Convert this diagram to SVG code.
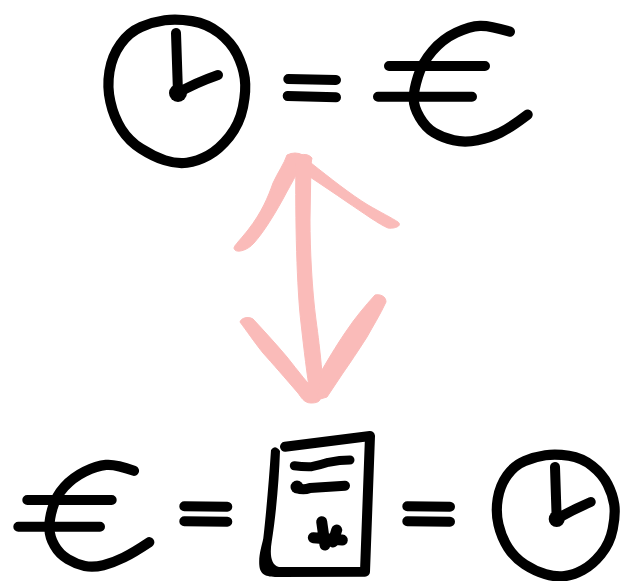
<svg xmlns="http://www.w3.org/2000/svg" width="627" height="581" viewBox="0 0 627 581">
<style>
.ink{fill:none;stroke:#000;stroke-width:10;stroke-linecap:round;stroke-linejoin:round}
.blob{stroke-width:11}
.dot{fill:#000}
.pink{fill:#fabbb9;stroke:#fabbb9;stroke-width:1;stroke-linejoin:round}
</style>
<rect width="627" height="581" fill="#fff"/>
<g id="clock-top">
<path class="ink" transform="translate(176.7 91) scale(1.02) translate(-176.7 -91)" d="M165,21.7 Q176.7,20 191.7,22.5 Q206.7,25 218.4,34.2 Q230,43.3 235.9,55 Q241.7,66.7 243.4,78.4 Q245,90 241.7,106.7 Q238.3,123.3 228.3,135.8 Q218.3,148.3 207.5,154.2 Q196.7,160 186.7,161.4 Q176.7,162.7 165,158.9 Q153.3,155 141.7,147.5 Q130,140 122.5,128.4 Q115,116.7 111.7,101.7 Q108.3,86.7 110.8,71.7 Q113.3,56.7 121.7,45 Q130,33.3 141.7,28.3 Q153.3,23.3 165,21.7Z"/>
<path class="ink" d="M176,33 L178,93 Q195,83 218,75"/>
<circle class="dot" cx="178" cy="93" r="9"/>
</g>
<g id="equals-top">
<path class="ink" d="M288.3,79 L336,80 M287.7,96 L336,97.3"/>
</g>
<g id="euro-top">
<path class="ink" transform="translate(480 85) scale(1.02) translate(-480 -85)" d="M509.3,32.7 Q490,26.7 480,27 Q470,27.3 456.7,33.7 Q443.3,40 433.3,51.7 Q423.3,63.3 419.2,76.7 Q415,90 415,98.4 Q415,106.7 420.9,116.7 Q426.7,126.7 435,131.7 Q443.3,136.7 454.2,139.2 Q465,141.7 477.5,139.2 Q490,136.7 500,131.7 Q510,126.7 526.7,114"/>
<path class="ink" d="M389,66 L485,66 M378,96.7 L472,96.7"/>
</g>
<g id="connectors">
<path class="pink" d="M287,155 Q295,151 303,155 C303,165 293,180 283,199 C272,219 262,234 254,243 C248,250 238,253 235,250 C232,247 236,245 248,230 C262,212 268,197 273,183 C278,172 284,164 287,155Z"/>
<path class="pink" d="M300,155 Q308,153 312,158 L311,163 C330,178 350,194 368,205 C380,212 392,218 398,222 C403,226 394,229 388,228 C380,225 362,212 347,202 C334,193 322,185 310,177Z"/>
<path class="pink" d="M296,160 C295,220 297,290 301,323 C304,350 307,375 310,393 L322,397 L322,373 C320,350 318,335 316,320 C312,290 310,250 310,220 L311,160Z"/>
<path class="pink" d="M240,322 C241,318 248,316 253,319 C265,332 276,344 287,357 C298,371 309,385 320,397 C321,402 316,403 311,403 C304,403 301,397 298,393 C286,379 272,363 263,353 C255,343 246,330 240,322Z"/>
<path class="pink" d="M375,295 C380,294 386,296 386,302 C380,315 373,326 367,337 C358,351 350,363 343,373 L327,397 L317,400 L322,370 C330,356 340,340 347,330 C355,318 365,306 375,295Z"/>
</g>
<g id="euro-bottom">
<path class="ink" transform="translate(100 515) scale(1.02) translate(-100 -515)" d="M133.3,471.7 Q115,465 105.9,465.9 Q96.7,466.7 85,472.5 Q73.3,478.3 65,487.5 Q56.7,496.7 53.4,508.4 Q50,520 50.4,528.4 Q50.7,536.7 55.4,545 Q60,553.3 68.4,558.3 Q76.7,563.3 85,565 Q93.3,566.7 103.3,564.2 Q113.3,561.7 123.3,556.7 Q133.3,551.7 148.3,541.7"/>
<path class="ink" d="M27.3,500 L111.7,500 M18.3,526.7 L100,526.7"/>
</g>
<g id="equals-left">
<path class="ink" d="M184.3,506.3 L227.3,506.7 M184.3,521.3 L227.3,521.7"/>
</g>
<g id="document">
<path class="ink" d="M285,446.7 L370,436 L365,571.7 L278.3,572"/>
<path class="dot" d="M271,450 Q275,444 280,451 C279,480 276,515 271.7,541.7 C270,552 270,565 279,567 L279,577 C268,577 260,576 259.3,565 C258.5,555 262,545 263.3,538.3 C266,515 269,480 271,450Z"/>
<path class="ink" style="stroke-width:9" d="M294.3,465.7 Q303,467 311.7,466.7 Q320,465 328.3,462.3 Q340,460 350,460"/>
<path class="ink" d="M296.7,487.3 Q302,491 310,488 L345,485.7"/>
<circle class="dot" cx="297" cy="487" r="6.5"/>
<path class="ink blob" d="M321.7,521.7 L325,545 M313.3,537.7 L342.3,540 M336.7,530 L333,542"/>
</g>
<g id="equals-right">
<path class="ink" d="M407.3,506.3 L450,506.7 M407.3,521.3 L450,521.7"/>
</g>
<g id="clock-bottom">
<path class="ink" transform="translate(555.7 515.5) scale(1.02) translate(-555.7 -515.5)" d="M545.6,456.5 Q555.7,455 568.6,457 Q581.5,459 591.5,467 Q601.6,475 606.6,485 Q611.7,495 613.1,504.8 Q614.5,514.5 611.6,528.8 Q608.8,543 600.1,553.5 Q591.5,564 582.2,569 Q573,574 564.3,575 Q555.7,576 545.6,573 Q535.5,570 525.4,563.5 Q515.4,557 509,547 Q502.5,537 499.6,524.5 Q496.7,512 498.9,499 Q501,486 508.2,476 Q515.4,466 525.4,462 Q535.5,458 545.6,456.5Z"/>
<path class="ink" d="M555,467 L556.7,519 Q572,510 590.7,502"/>
<circle class="dot" cx="556.7" cy="519" r="8"/>
</g>
</svg>
